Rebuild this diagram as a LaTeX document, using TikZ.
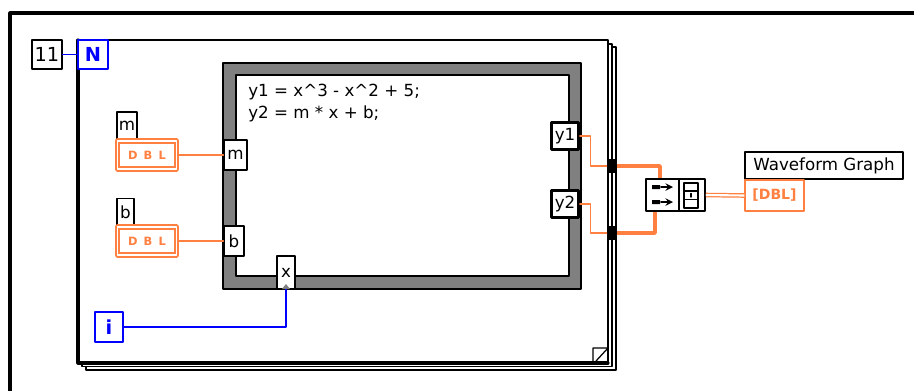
\documentclass[tikz,border=0pt]{standalone}
\usepackage{fontspec}
\setmainfont{DejaVu Sans}
\newlength\px
\setlength\px{0.02cm}
\definecolor{lvorange}{RGB}{255,128,64}
\definecolor{lvblue}{RGB}{0,0,255}
\definecolor{lvgray}{RGB}{128,128,128}
\begin{document}
\begin{tikzpicture}[x=0.02cm, y=-0.02cm, font=\fontsize{9.5}{11}\selectfont, line join=round, line cap=round, >=stealth]
	\tikzset{box/.style={draw, fill=white, inner sep=0pt, line width=0.7pt},
		bluebox/.style={box, draw=lvblue, line width=1.6pt},
		outbox/.style={box, line width=1.5pt},
		dblctl/.style={draw=lvorange, line width=1.1pt, double=white, double distance=0.7pt, fill=white, inner sep=0pt,
			text=lvorange, font=\fontsize{6.5}{7}\selectfont\bfseries, minimum width=59\px, minimum height=28\px},
		tunnel/.style={fill=black, inner sep=0pt, minimum width=10\px, minimum height=14\px},
		wire/.style={draw=lvorange, line width=0.7pt},
		arrwire/.style={draw=lvorange, line width=2pt},
		intwire/.style={draw=lvblue, line width=0.9pt}}
	\useasboundingbox (0,0) rectangle (914,390);
	
	%Khung ngoai
	\draw[line width=1.8pt] (10,392) -- (10,13) -- (916,13);
	
	%Vong lap For (3 trang chong nhau)
	\filldraw[fill=white, line width=0.8pt] (86,47) rectangle (616,370);
	\filldraw[fill=white, line width=0.8pt] (82,44) rectangle (612,366.5);
	\filldraw[fill=white, line width=1.1pt] (78,40) rectangle (608,363);
	\draw[line width=1.8pt] (78,40) -- (78,363) -- (608,363);
	\draw[line width=0.7pt] (593,363) -- (593,348) -- (608,348) -- (596,361);
	
	%Formula node
	\filldraw[fill=lvgray, line width=0.8pt] (223,63) rectangle (581,289);
	\filldraw[fill=white, line width=0.8pt] (236,75) rectangle (569,276);
	\node[anchor=north west, align=left, inner sep=0pt, font=\fontsize{9.5}{12.5}\selectfont] (code) at (248,84)
	{y1 = x\textasciicircum3 - x\textasciicircum2 + 5;\\y2 = m * x + b;};
	
	%Cac nut
	\node[box, minimum width=30\px, minimum height=29\px, font=\fontsize{11}{12}\selectfont] (cnt) at (47,54.5) {11};
	\node[bluebox, minimum width=30\px, minimum height=29\px, text=lvblue, font=\fontsize{11}{12}\selectfont\bfseries] (N) at (93,54.5) {N};
	\node[bluebox, minimum width=28\px, minimum height=30\px, text=lvblue, font=\fontsize{11}{12}\selectfont\bfseries] (iter) at (109,327) {i};
	
	\node[box, minimum width=20\px, minimum height=27\px] (mlab) at (127,125.5) {m};
	\node[dblctl] (mctl) at (147,155) {D\hspace{3.5pt}B\hspace{3.5pt}L};
	\node[box, minimum width=17\px, minimum height=27\px] (blab) at (125.5,212) {b};
	\node[dblctl] (bctl) at (147,241) {D\hspace{3.5pt}B\hspace{3.5pt}L};
	
	\node[box, minimum width=23\px, minimum height=30\px] (fm) at (235.5,155) {m};
	\node[box, minimum width=20\px, minimum height=30\px] (fb) at (234,241) {b};
	\node[box, minimum width=18\px, minimum height=33\px] (fx) at (286,272.5) {x};
	\fill[lvgray] (282,289) -- (286,284) -- (290,289) -- cycle;
	\node[outbox, minimum width=27\px, minimum height=27\px] (fy1) at (565,136) {y1};
	\node[outbox, minimum width=27\px, minimum height=27\px] (fy2) at (565,204) {y2};
	
	\node[tunnel] (t1) at (612,166) {};
	\node[tunnel] (t2) at (612,233) {};
	
	%Build Array
	\node[box, line width=0.9pt, minimum width=59\px, minimum height=32\px] (build) at (675.5,195) {};
	\draw[line width=0.9pt] (679,179) -- (679,211);
	\fill (652,185) rectangle (660,189) (652,200) rectangle (660,204);
	\draw[->, line width=0.9pt] (661,187) -- (673,187);
	\draw[->, line width=0.9pt] (661,202) -- (673,202);
	\draw[line width=0.8pt] (684,183) rectangle (698,208) (684,191) -- (698,191) (684,199.5) -- (698,199.5) (691,193.5) -- (691,197);
	
	%Waveform Graph
	\node[box, minimum width=158\px, minimum height=27\px] (wlab) at (824,165.5) {Waveform Graph};
	\node[box, draw=lvorange, line width=0.8pt, text=lvorange, minimum width=59\px, minimum height=31\px, font=\fontsize{8}{9}\selectfont\bfseries] (wind) at (774.5,195.5) {[DBL]};
	
	%Day noi
	\draw[intwire] (cnt.east) -- (N.west);
	\draw[intwire] (iter.east) -| (fx.south);
	\draw[wire] (mctl.east) -- (fm.west);
	\draw[wire] (bctl.east) -- (fb.west);
	\draw[wire] (fy1.east) -- ++(11,0) |- (t1.west);
	\draw[wire] (fy2.east) -- ++(11,0) |- (t2.west);
	\draw[arrwire, line cap=butt] (t1.east) -| ([xshift=-15.5\px]build.north);
	\draw[arrwire, line cap=butt] (t2.east) -| ([xshift=-20.5\px]build.south);
	\draw[draw=lvorange, line width=0.7pt, double=white, double distance=1.2pt, line cap=butt] (build.east) -- (wind.west);
\end{tikzpicture}
\end{document}
